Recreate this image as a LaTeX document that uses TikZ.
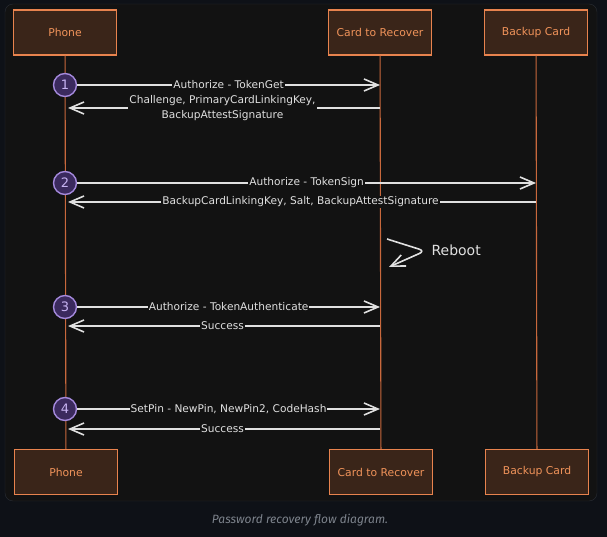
\documentclass[tikz,border=0pt]{standalone}
\usepackage{fontspec}
\setmainfont{DejaVu Sans}
\newfontfamily\capfont{Fira Sans}
\usepackage{tikz}
\usetikzlibrary{arrows.meta, positioning, calc}

\definecolor{pagebg}{HTML}{0E1117}
\definecolor{panelbg}{HTML}{121212}
\definecolor{panelline}{HTML}{2A2E35}
\definecolor{boxfill}{HTML}{3A2519}
\definecolor{boxline}{HTML}{E8834E}
\definecolor{boxtext}{HTML}{F0935A}
\definecolor{lifeline}{HTML}{C8683C}
\definecolor{msgline}{HTML}{E0E0E0}
\definecolor{stepfill}{HTML}{3B2A5E}
\definecolor{stepline}{HTML}{A489DC}
\definecolor{steptext}{HTML}{C7B3F2}
\definecolor{captext}{HTML}{7D838C}

\begin{document}
\begin{tikzpicture}[
  x=1pt, y=-1pt,
  >={Straight Barb[length=14pt,width=12pt,line width=1.6pt]},
  actor/.style={draw=boxline, line width=1.4pt, fill=boxfill, minimum width=103pt,
    minimum height=45pt, text=boxtext, font=\fontsize{10.8}{12}\selectfont},
  life/.style={draw=lifeline, line width=1.1pt},
  stepnum/.style={circle, draw=stepline, line width=1.4pt, fill=stepfill, text=steptext,
    minimum size=23pt, inner sep=0pt, font=\fontsize{13}{13}\selectfont},
  msg/.style={draw=msgline, line width=1.6pt, ->},
  lbl/.style={fill=panelbg, inner sep=1pt, text=msgline, align=center,
    font=\fontsize{10.6}{15}\selectfont},
]

\useasboundingbox (0,0) rectangle (607,537);
\fill[pagebg] (0,0) rectangle (607,537);
\draw[panelline, fill=panelbg, rounded corners=8pt] (5,4) rectangle (597,501);

% --- Participants ---
\node[actor] (phoneTop) at (65,32.5) {Phone};
\node[actor] (cardTop) at (380,32.5) {Card to Recover};
\node[actor] (backupTop) at (536,32.5) {Backup Card};
\node[actor] (phoneBot) at (66,472) {Phone};
\node[actor] (cardBot) at (381,472) {Card to Recover};
\node[actor] (backupBot) at (537,472) {Backup Card};

% Lifelines
\draw[life] (phoneTop) -- (phoneBot);
\draw[life] (cardTop) -- (cardBot);
\draw[life] (backupTop) -- (backupBot);

% --- Steps ---
\node[stepnum] (s1) at (65,85) {1};
\node[stepnum] (s2) at (65,183) {2};
\node[stepnum] (s3) at (65,307) {3};
\node[stepnum] (s4) at (65,409) {4};

\coordinate (r1) at (0,108);
\coordinate (r2) at (0,202);
\coordinate (r3) at (0,326);
\coordinate (r4) at (0,429);

% Step 1
\draw[msg] (s1) -- (s1 -| cardTop) node[lbl, midway] {Authorize - TokenGet};
\draw[msg, shorten >=3pt] (cardTop |- r1) -- (phoneTop |- r1)
  node[lbl, midway] {Challenge, PrimaryCardLinkingKey,\\BackupAttestSignature};

% Step 2
\draw[msg] (s2) -- (s2 -| backupTop) node[lbl, midway] {Authorize - TokenSign};
\draw[msg, shorten >=3pt] (backupTop |- r2) -- (phoneTop |- r2)
  node[lbl, midway] {BackupCardLinkingKey, Salt, BackupAttestSignature};

% Reboot
\coordinate (rbStart) at (387,239);
\coordinate (rbEnd) at (389,267);
\draw[msg, rounded corners=6pt] (rbStart) -- (425,251) -- (rbEnd);
\node[text=msgline, font=\fontsize{14}{16}\selectfont, anchor=west] (reboot) at (428,250) {Reboot};

% Step 3
\draw[msg] (s3) -- (s3 -| cardTop) node[lbl, midway] {Authorize - TokenAuthenticate};
\draw[msg, shorten >=3pt] (cardTop |- r3) -- (phoneTop |- r3) node[lbl, midway] {Success};

% Step 4
\draw[msg] (s4) -- (s4 -| cardTop) node[lbl, midway] {SetPin - NewPin, NewPin2, CodeHash};
\draw[msg, shorten >=3pt] (cardTop |- r4) -- (phoneTop |- r4) node[lbl, midway] {Success};

% Caption
\node[text=captext, font=\capfont\fontsize{12}{14}\selectfont\itshape] (caption) at (300,520)
  {Password recovery flow diagram.};

\end{tikzpicture}
\end{document}
